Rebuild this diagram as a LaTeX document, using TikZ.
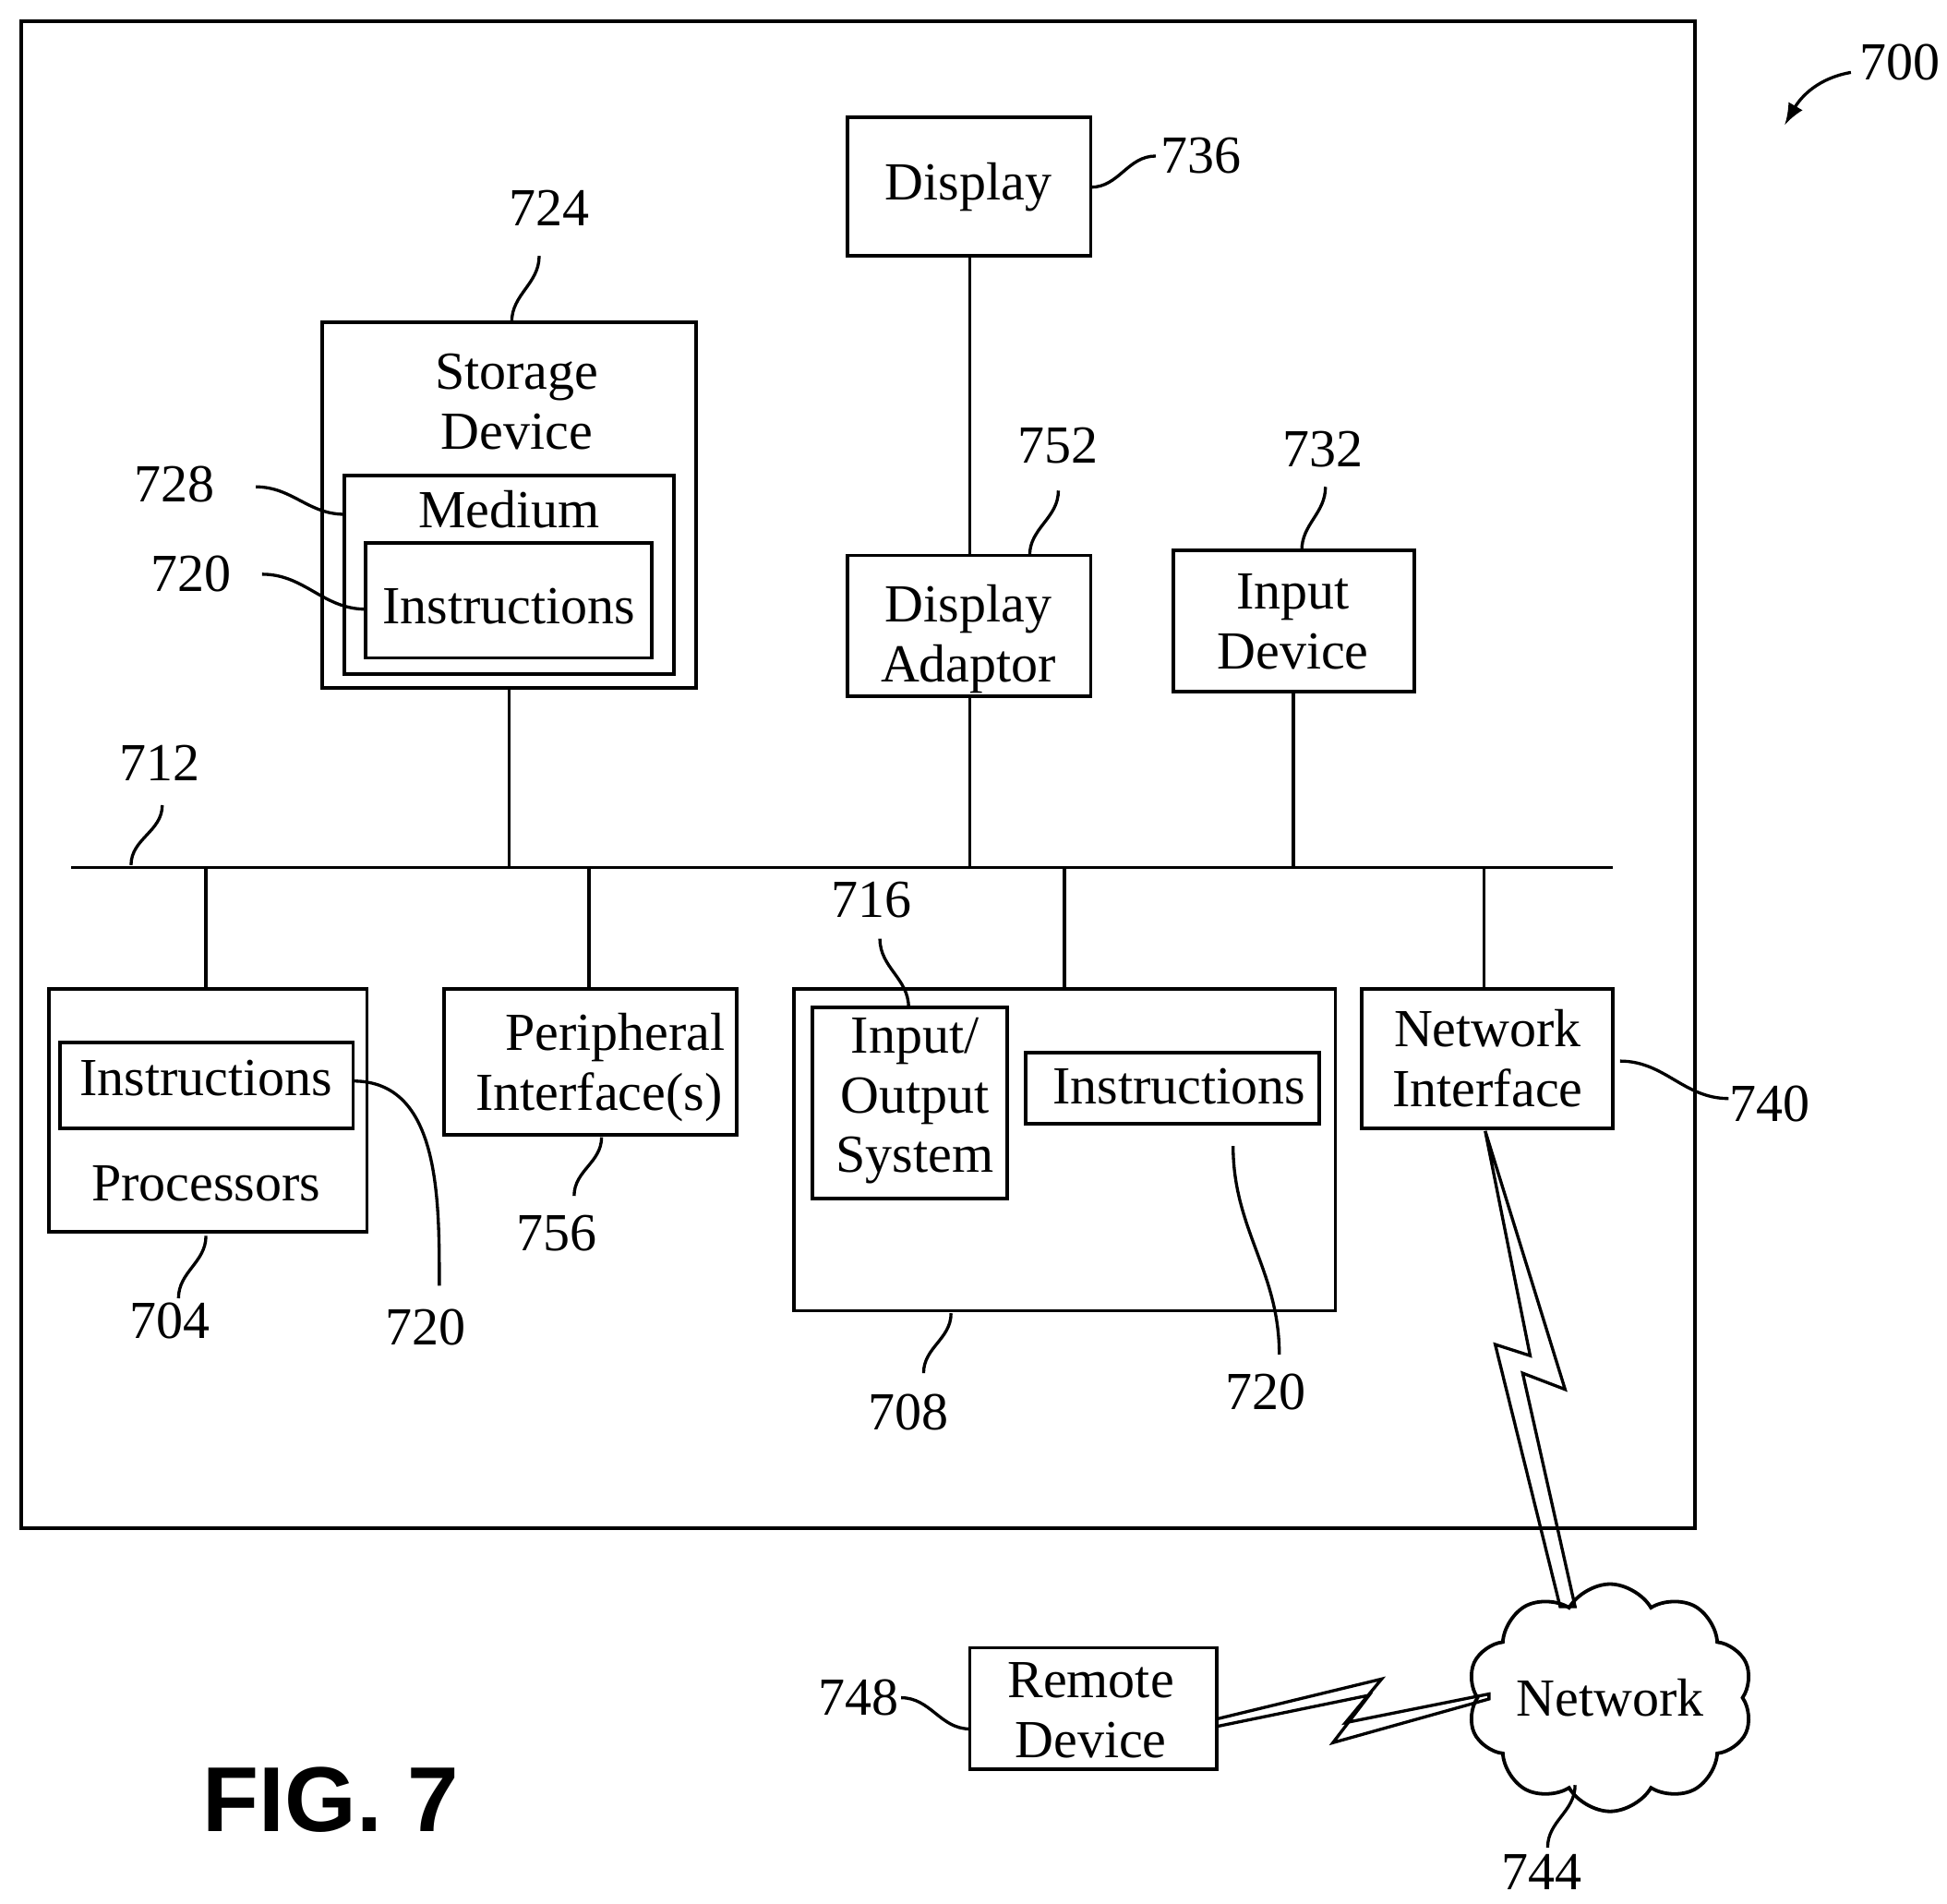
\documentclass[tikz,border=0pt]{standalone}
\usepackage{fontspec}
\setmainfont{Liberation Serif}
\newfontfamily\figfont{Liberation Sans}
\usetikzlibrary{shapes.symbols}

\tikzset{
  box/.style={draw,line width=0.8pt,inner sep=0pt},
  txt/.style={align=center,inner sep=0pt,font=\fontsize{12.2}{13.6}\selectfont},
  ref/.style={inner sep=1pt,font=\fontsize{12.2}{13.6}\selectfont},
  lead/.style={line width=0.7pt},
  wire/.style={line width=0.8pt}
}

\begin{document}
\begin{tikzpicture}[x=0.01cm,y=-0.01cm]
  \useasboundingbox (0,0) rectangle (1560,1525);

  % outer system box
  \draw[box] (17,17) rectangle (1358,1224);
  \node[ref] (r700) at (1522,50) {700};
  \draw[lead,-latex] (1483,58) to[out=190,in=60] (1430,100);

  % boxes
  \draw[box] (679,94) rectangle (874,205);
  \node[txt] (display) at (776,150) {Display};
  \draw[box] (258,258) rectangle (558,551);
  \node[txt] (storage) at (414,322) {Storage\\Device};
  \draw[box] (276,381) rectangle (540,540);
  \node[txt] (medium) at (408,408) {Medium};
  \draw[box] (293,435) rectangle (522,527);
  \node[txt] (instrA) at (408,486) {Instructions};
  \draw[box] (679,445) rectangle (874,558);
  \node[txt] (adaptor) at (776,512) {Display\\Adaptor};
  \draw[box] (940,441) rectangle (1133,554);
  \node[txt] (input) at (1036,498) {Input\\Device};

  \draw[box] (39,792) rectangle (294,987);
  \draw[box] (48,835) rectangle (283,904);
  \node[txt] (instrB) at (165,864) {Instructions};
  \node[txt] (proc) at (165,948) {Processors};
  \draw[box] (356,792) rectangle (590,909);
  \node[txt] (periph) at (480,855) {\hspace*{0.6em}Peripheral\\Interface(s)};
  \draw[box] (636,792) rectangle (1070,1050);
  \draw[box] (651,807) rectangle (807,960);
  \node[txt] (ios) at (733,882) {Input/\\Output\\System};
  \draw[box] (822,843) rectangle (1057,900);
  \node[txt] (instrC) at (945,870) {Instructions};
  \draw[box] (1091,792) rectangle (1292,904);
  \node[txt] (netif) at (1192,848) {Network\\Interface};
  \draw[box] (777,1320) rectangle (975,1417);
  \node[txt] (remote) at (874,1370) {Remote\\Device};
  \node[cloud,draw,line width=0.8pt,cloud puffs=10,cloud puff arc=120,aspect=1.4,
        txt,inner sep=0pt,minimum width=1.6cm,minimum height=1.1cm] (net) at (1290,1360) {Network};
  \node[font=\figfont\bfseries\fontsize{21}{24}\selectfont,inner sep=0pt] (fig) at (265,1442) {FIG. 7};

  % bus and wires
  \draw[wire] (57,695) -- (1292,695);
  \draw[wire] (777,205) -- (777,445);
  \draw[wire] (777,558) -- (777,695);
  \draw[wire] (408,551) -- (408,695);
  \draw[wire] (1036,554) -- (1036,695);
  \foreach \x in {165,472,853,1189}
    \draw[wire] (\x,695) -- (\x,792);

  % wireless links
  \draw[line width=0.7pt] (1190,906) -- (1254,1113) -- (1220,1100) -- (1262,1287)
    -- (1250,1287) -- (1198,1077) -- (1226,1086) -- cycle;
  \draw[line width=0.7pt] (975,1377) -- (1107,1345) -- (1078,1380) -- (1193,1357)
    -- (1193,1361) -- (1068,1396) -- (1097,1358) -- (975,1383);

  % reference numerals
  \node[ref] (r736) at (962,125) {736};
  \draw[lead] (874,150) to[out=0,in=180] (926,125);
  \node[ref] (r724) at (440,167) {724};
  \draw[lead] (410,258) to[out=90,in=-90] (432,205);
  \node[ref] (r728) at (140,388) {728};
  \draw[lead] (205,390) to[out=0,in=180] (276,412);
  \node[ref] (r720a) at (153,460) {720};
  \draw[lead] (210,460) to[out=0,in=180] (293,488);
  \node[ref] (r752) at (848,357) {752};
  \draw[lead] (825,445) to[out=90,in=-90] (848,393);
  \node[ref] (r732) at (1060,360) {732};
  \draw[lead] (1043,441) to[out=90,in=-90] (1062,390);
  \node[ref] (r712) at (128,611) {712};
  \draw[lead] (105,693) to[out=90,in=-90] (130,645);
  \node[ref] (r704) at (136,1058) {704};
  \draw[lead] (165,990) to[out=-90,in=90] (143,1040);
  \node[ref] (r720b) at (341,1063) {720};
  \draw[lead] (283,866) to[out=0,in=90] (352,1030);
  \node[ref] (r756) at (446,988) {756};
  \draw[lead] (482,911) to[out=-90,in=90] (460,958);
  \node[ref] (r716) at (698,721) {716};
  \draw[lead] (705,752) to[out=-90,in=90] (728,807);
  \node[ref] (r720c) at (1014,1115) {720};
  \draw[lead] (988,918) to[out=-90,in=90] (1025,1085);
  \node[ref] (r708) at (728,1131) {708};
  \draw[lead] (762,1052) to[out=-90,in=90] (740,1100);
  \node[ref] (r740) at (1418,884) {740};
  \draw[lead] (1298,850) to[out=0,in=180] (1385,880);
  \node[ref] (r744) at (1235,1500) {744};
  \draw[lead] (1262,1430) to[out=-90,in=90] (1240,1480);
  \node[ref] (r748) at (688,1360) {748};
  \draw[lead] (722,1360) to[out=0,in=180] (777,1385);
\end{tikzpicture}
\end{document}
